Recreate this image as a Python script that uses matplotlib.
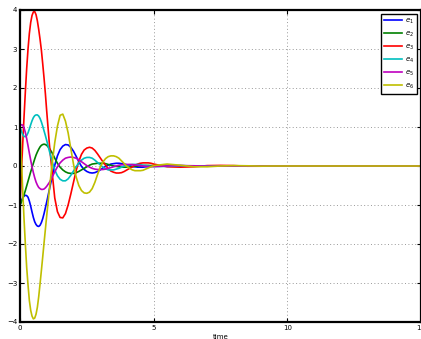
import numpy as np
import matplotlib
matplotlib.use("Agg")
import matplotlib.pyplot as plt

# sample times
t_fine = [0.0, 0.05, 0.1, 0.15, 0.2, 0.25, 0.3, 0.35, 0.4, 0.45, 0.5, 0.55, 0.6, 0.65, 0.7,
          0.75, 0.8, 0.85, 0.9, 0.95, 1.0]
t_mid = [1.1, 1.2, 1.3, 1.4, 1.5, 1.6, 1.7, 1.8, 1.9, 2.0, 2.1, 2.2, 2.3, 2.4, 2.5, 2.6, 2.7,
         2.8, 2.9, 3.0, 3.1, 3.2, 3.3, 3.4, 3.5, 3.6, 3.7, 3.8, 3.9, 4.0, 4.1, 4.2, 4.3, 4.4,
         4.5, 4.6, 4.7, 4.8, 4.9, 5.0]
t_tail = [5.5, 6.0, 6.5, 7.0, 7.5, 8.0, 8.5, 9.0, 9.5, 10.0, 10.5, 11.0, 11.5, 12.0, 12.5,
          13.0, 13.5, 14.0, 14.5, 15.0]
time = t_fine + t_mid + t_tail

e1 = [-1.0, -0.9, -0.82, -0.77, -0.75, -0.76, -0.8, -0.9, -1.03, -1.18, -1.32, -1.43, -1.5,
      -1.54, -1.55, -1.52, -1.45, -1.35, -1.22, -1.07, -0.92,
      -0.6, -0.28, 0.02, 0.26, 0.42, 0.51, 0.55, 0.54, 0.48, 0.38, 0.25, 0.11, -0.01, -0.09,
      -0.14, -0.17, -0.18, -0.17, -0.14, -0.1, -0.05, -0.01, 0.02, 0.05, 0.06, 0.07, 0.07,
      0.06, 0.05, 0.03, 0.01, -0.01, -0.02, -0.03, -0.03, -0.03, -0.02, -0.02, -0.01, 0.0,
      0.01, 0.01, 0.0, -0.005, 0.0, 0.0, 0.0, 0.0, 0.0, 0.0, 0.0, 0.0, 0.0, 0.0, 0.0, 0.0,
      0.0, 0.0, 0.0, 0.0]
e2 = [-1.0, -0.93, -0.84, -0.74, -0.63, -0.51, -0.39, -0.27, -0.15, -0.04, 0.07, 0.18, 0.28,
      0.36, 0.43, 0.49, 0.53, 0.55, 0.56, 0.55, 0.53,
      0.45, 0.34, 0.2, 0.07, -0.03, -0.1, -0.15, -0.18, -0.19, -0.19, -0.17, -0.14, -0.1,
      -0.06, -0.02, 0.02, 0.05, 0.06, 0.07, 0.07, 0.07, 0.06, 0.04, 0.02, 0.0, -0.01, -0.02,
      -0.03, -0.03, -0.03, -0.03, -0.02, -0.01, 0.0, 0.01, 0.01, 0.015, 0.015, 0.01, 0.01,
      -0.005, -0.005, 0.0, 0.0, 0.0, 0.0, 0.0, 0.0, 0.0, 0.0, 0.0, 0.0, 0.0, 0.0, 0.0, 0.0,
      0.0, 0.0, 0.0, 0.0]
e3 = [-1.0, -0.2, 0.55, 1.25, 1.9, 2.5, 3.0, 3.4, 3.68, 3.86, 3.95, 3.96, 3.88, 3.72, 3.5,
      3.25, 2.97, 2.62, 2.25, 1.85, 1.4,
      0.55, -0.15, -0.82, -1.17, -1.32, -1.33, -1.22, -1.0, -0.72, -0.42, -0.12, 0.12, 0.3,
      0.41, 0.46, 0.48, 0.46, 0.4, 0.31, 0.21, 0.11, 0.02, -0.07, -0.13, -0.16, -0.18, -0.18,
      -0.17, -0.14, -0.1, -0.06, -0.02, 0.02, 0.05, 0.07, 0.08, 0.08, 0.08, 0.07, 0.05,
      -0.02, -0.03, -0.02, 0.01, 0.015, 0.01, -0.005, -0.005, 0.0, 0.003, 0.0, 0.0, 0.0,
      0.0, 0.0, 0.0, 0.0, 0.0, 0.0, 0.0]
e4 = [1.0, 0.9, 0.81, 0.76, 0.75, 0.78, 0.85, 0.95, 1.06, 1.16, 1.24, 1.29, 1.31, 1.31, 1.28,
      1.22, 1.13, 1.02, 0.9, 0.78, 0.65,
      0.38, 0.12, -0.1, -0.25, -0.34, -0.38, -0.38, -0.33, -0.24, -0.13, -0.02, 0.08, 0.15,
      0.2, 0.22, 0.22, 0.2, 0.15, 0.09, 0.03, -0.03, -0.07, -0.1, -0.1, -0.1, -0.08, -0.06,
      -0.03, 0.0, 0.02, 0.03, 0.04, 0.04, 0.04, 0.03, 0.02, 0.01, 0.0, -0.01, -0.015,
      -0.01, 0.005, 0.005, 0.0, 0.0, 0.0, 0.0, 0.0, 0.0, 0.0, 0.0, 0.0, 0.0, 0.0, 0.0, 0.0,
      0.0, 0.0, 0.0, 0.0]
e5 = [1.03, 1.06, 1.05, 0.98, 0.86, 0.7, 0.52, 0.33, 0.15, -0.02, -0.17, -0.3, -0.41, -0.49,
      -0.55, -0.58, -0.6, -0.6, -0.59, -0.56, -0.52,
      -0.42, -0.29, -0.15, -0.02, 0.08, 0.15, 0.2, 0.22, 0.23, 0.22, 0.2, 0.16, 0.11, 0.06,
      0.01, -0.03, -0.06, -0.08, -0.09, -0.09, -0.09, -0.08, -0.06, -0.04, -0.02, 0.0, 0.02,
      0.03, 0.035, 0.04, 0.04, 0.035, 0.03, 0.02, 0.01, 0.0, -0.01, -0.015, -0.015, -0.015,
      0.0, 0.01, 0.005, -0.003, 0.0, 0.0, 0.0, 0.0, 0.0, 0.0, 0.0, 0.0, 0.0, 0.0, 0.0, 0.0,
      0.0, 0.0, 0.0, 0.0]
e6 = [1.0, 0.2, -0.6, -1.35, -2.0, -2.6, -3.05, -3.45, -3.7, -3.85, -3.92, -3.9, -3.8, -3.62,
      -3.35, -3.02, -2.68, -2.33, -1.97, -1.62, -1.27,
      -0.6, 0.05, 0.6, 1.02, 1.3, 1.33, 1.15, 0.85, 0.45, 0.05, -0.28, -0.5, -0.63, -0.69,
      -0.7, -0.67, -0.58, -0.42, -0.22, -0.03, 0.1, 0.19, 0.24, 0.26, 0.26, 0.24, 0.2, 0.13,
      0.06, -0.01, -0.06, -0.1, -0.12, -0.12, -0.12, -0.11, -0.08, -0.05, -0.02, 0.01,
      0.05, 0.02, -0.02, -0.02, 0.0, 0.01, 0.005, -0.003, 0.0, 0.0, 0.0, 0.0, 0.0, 0.0, 0.0,
      0.0, 0.0, 0.0, 0.0, 0.0]

series = [e1, e2, e3, e4, e5, e6]
labels = ["$e_1$", "$e_2$", "$e_3$", "$e_4$", "$e_5$", "$e_6$"]
colors = ["#0000ff", "#008000", "#ff0000", "#00bfbf", "#bf00bf", "#bfbf00"]

x_ticks = [0, 5, 10, 15]
y_ticks = [-4, -3, -2, -1, 0, 1, 2, 3, 4]

fig = plt.figure(figsize=(4.21, 3.39), dpi=100)
ax = fig.add_axes([20 / 421, 1 - 322 / 339, 1.0 - 20 / 421, (322 - 10) / 339])

for s, lab, c in zip(series, labels, colors):
    ax.plot(time, s, color=c, lw=1.2, label=lab)

ax.set_xlim(0, 15)
ax.set_ylim(-4, 4)
ax.set_xticks(x_ticks)
ax.set_yticks(y_ticks)
ax.tick_params(direction="in", length=3, width=0.8, labelsize=5, pad=2,
               top=True, right=True, colors="black")
ax.grid(True, linestyle=(0, (1, 2.5)), color="#999999", linewidth=0.7)
for sp in ax.spines.values():
    sp.set_linewidth(1.6)
    sp.set_color("black")
ax.set_xlabel("time", fontsize=5, labelpad=2)

leg = ax.legend(loc="upper right", fontsize=5, frameon=True, fancybox=False,
                framealpha=1, edgecolor="black", handlelength=2.6, labelspacing=0.55,
                borderaxespad=0.3, handletextpad=0.4, borderpad=0.45,
                bbox_to_anchor=(0.995, 0.995))
leg.get_frame().set_linewidth(1.0)

fig.savefig("out.png", dpi=100)
